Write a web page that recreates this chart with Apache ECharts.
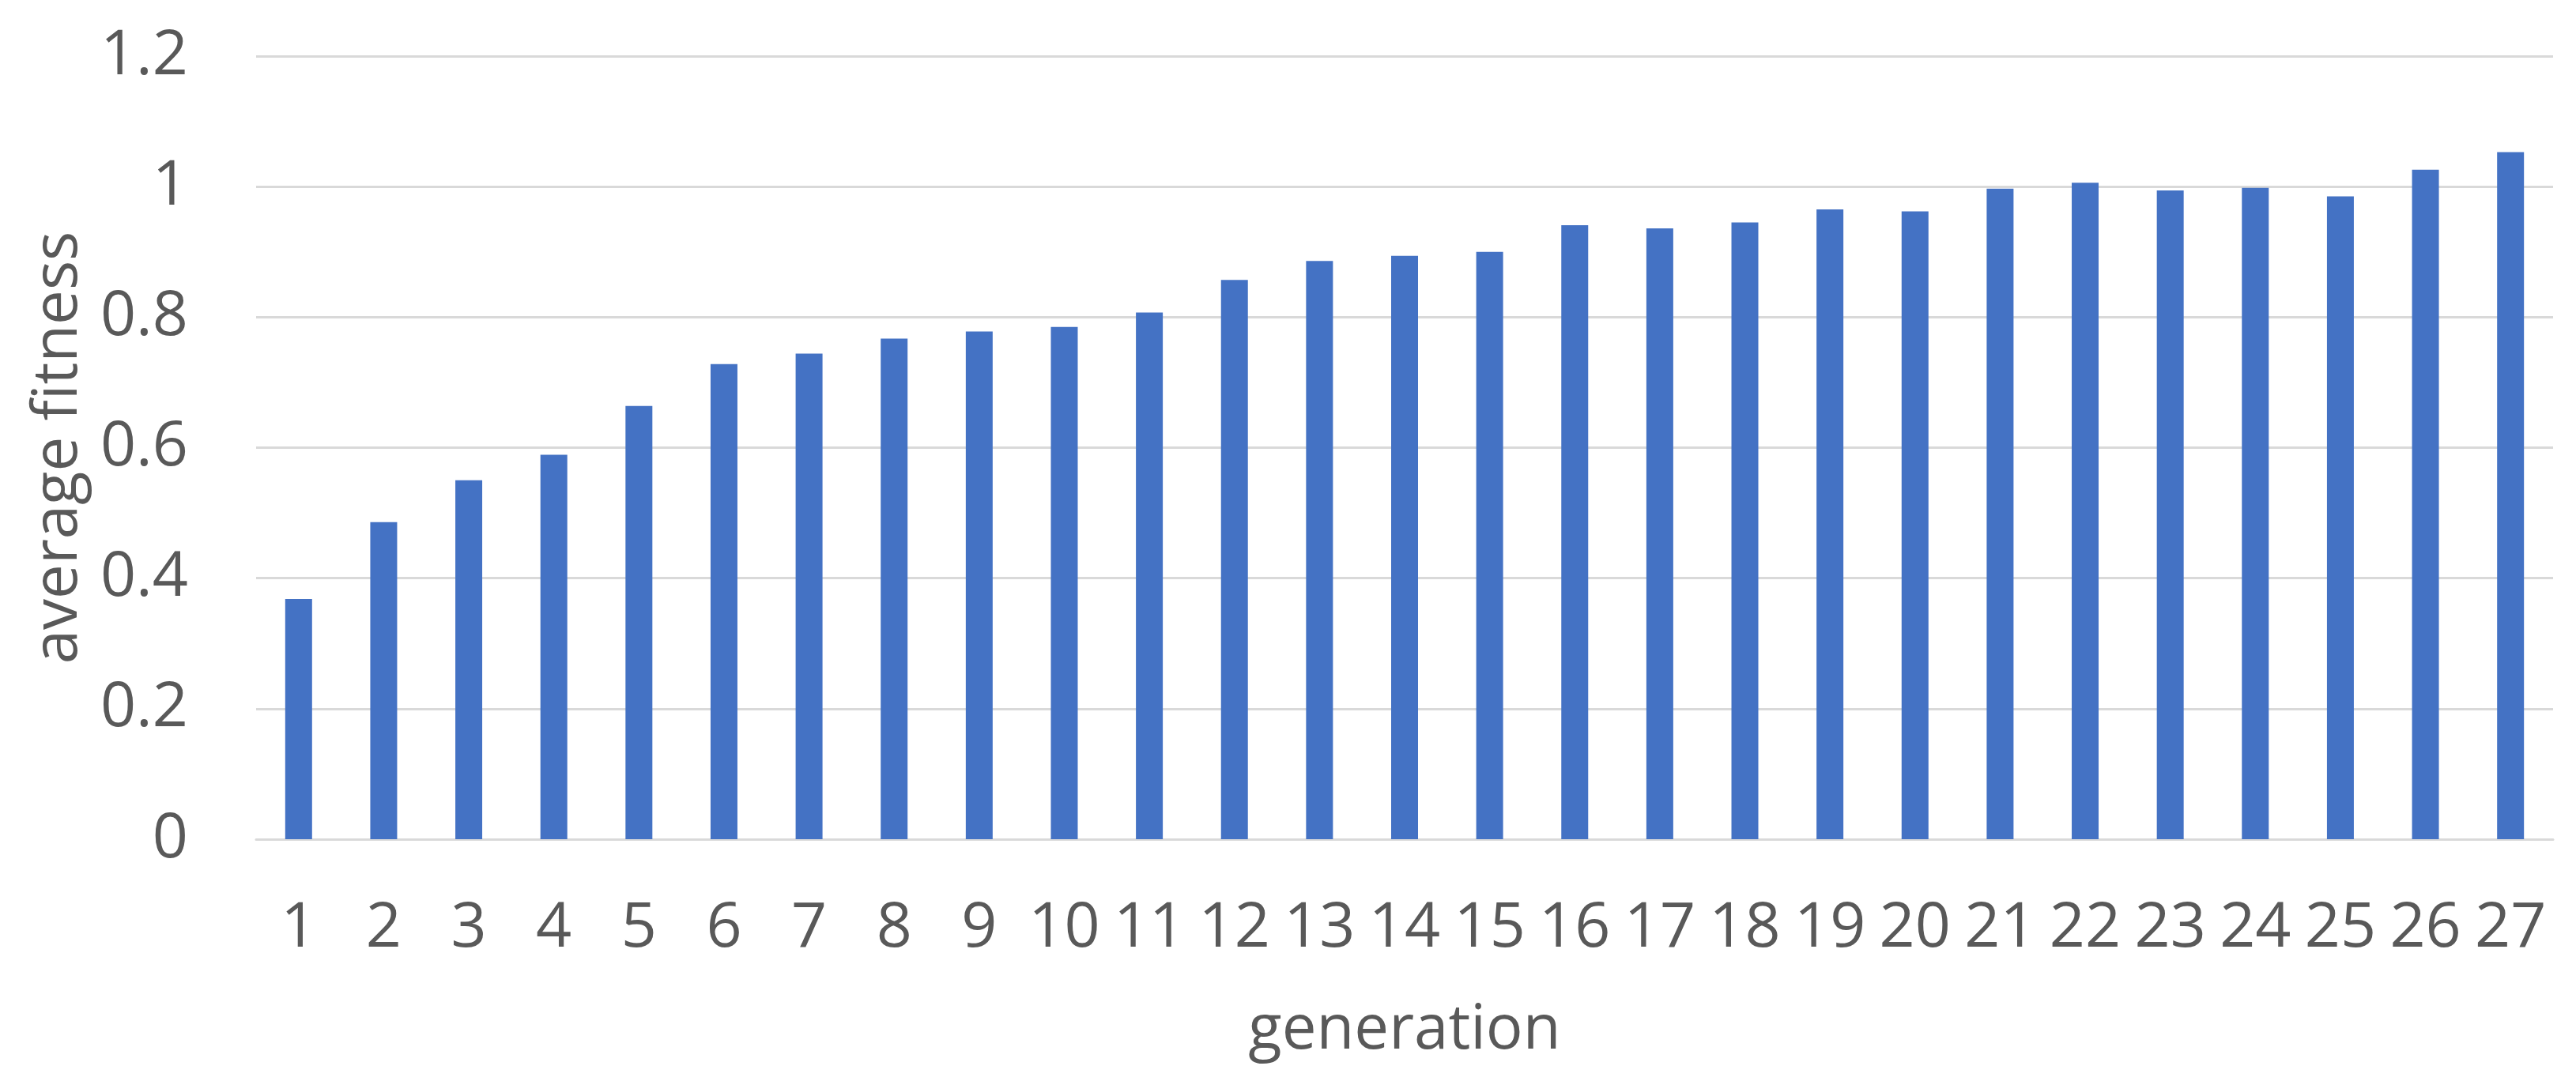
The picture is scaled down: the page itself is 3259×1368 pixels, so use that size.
<!DOCTYPE html>
<html>
<head>
<meta charset="utf-8">
<script src="https://cdn.jsdelivr.net/npm/echarts@6/dist/echarts.min.js"></script>
<style>
html,body{margin:0;padding:0;background:#fff;}
#chart{width:3259px;height:1368px;}
</style>
</head>
<body>
<div id="chart"></div>
<script>
const generations = ['1','2','3','4','5','6','7','8','9','10','11','12','13','14','15','16','17','18','19','20','21','22','23','24','25','26','27'];
const averageFitness = [0.368,0.486,0.550,0.589,0.664,0.728,0.744,0.767,0.778,0.785,0.807,0.857,0.886,0.894,0.900,0.941,0.936,0.945,0.965,0.962,0.997,1.006,0.994,0.998,0.985,1.026,1.053];
const yTicks = [0, 0.2, 0.4, 0.6, 0.8, 1.0, 1.2];
const xAxisName = 'generation';
const yAxisName = 'average fitness';

const FONT = 'Open Sans';
const TXT = '#595959';
const chart = echarts.init(document.getElementById('chart'), null, {renderer: 'canvas'});
chart.setOption({
  animation: false,
  backgroundColor: '#ffffff',
  grid: {left: 324, right: 29, top: 71, bottom: 306, containLabel: false},
  xAxis: {
    type: 'category',
    data: generations,
    name: xAxisName,
    nameLocation: 'middle',
    nameGap: 204,
    nameTextStyle: {fontFamily: FONT, fontSize: 78, color: TXT},
    axisLine: {show: true, lineStyle: {color: '#D9D9D9', width: 3}},
    axisTick: {show: false},
    axisLabel: {fontFamily: FONT, fontSize: 79, color: TXT, margin: 74, interval: 0}
  },
  yAxis: {
    type: 'value',
    min: yTicks[0],
    max: yTicks[yTicks.length - 1],
    interval: 0.2,
    name: yAxisName,
    nameLocation: 'middle',
    nameGap: 210,
    nameTextStyle: {fontFamily: FONT, fontSize: 78, color: TXT},
    axisLine: {show: false},
    axisTick: {show: false},
    splitLine: {show: true, lineStyle: {color: '#D9D9D9', width: 3}},
    axisLabel: {
      fontFamily: FONT, fontSize: 79, color: TXT, margin: 86,
      formatter: function (v) { return String(Math.round(v * 10) / 10); }
    }
  },
  series: [{
    type: 'bar',
    data: averageFitness,
    barWidth: 34,
    itemStyle: {color: '#4472C4'}
  }]
});
</script>
</body>
</html>
